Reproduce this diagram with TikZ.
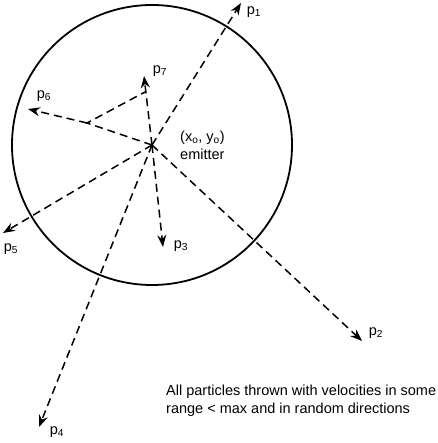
\documentclass[tikz,border=0pt]{standalone}
\usepackage{fontspec}
\setmainfont{Liberation Sans}
\usetikzlibrary{arrows.meta}

\begin{document}
\begin{tikzpicture}[x=1pt,y=-1pt,>={Stealth[length=12pt,width=9pt,inset=4pt]},
    font=\fontsize{14.5}{18}\selectfont,
    track/.style={line width=1.5pt,dash pattern=on 8pt off 5pt},
    particle/.style={track,->},
    plabel/.style={inner sep=0pt}]
    \useasboundingbox (0,0) rectangle (437,443);

    % the emitter and its range
    \coordinate (e) at (152,145);
    \draw[line width=1.8pt] (e) circle(140);
    \node[anchor=west,align=left,inner sep=0pt] (eml) at (180,145)
        {(x\textsubscript{o}, y\textsubscript{o})\\emitter};

    % end points and labels of the particles
    \foreach \n/\tx/\ty/\lx/\ly in {
        1/241/3/254/12,
        2/362/341/376/333,
        3/163/247/181/246,
        4/39/427/57/432,
        5/3/233/11/249,
        6/28/109/44/96,
        7/144/76/160/71} {
            \coordinate (t\n) at (\tx,\ty);
            \node[plabel] (l\n) at (\lx,\ly) {p\textsubscript{\n}};
    }

    % straight paths from the emitter
    \foreach \n in {1,2,3,4,5,7}
        \draw[particle] (e) -- (t\n);

    % the path with a turn
    \coordinate (k) at (87,123);
    \coordinate (j) at (145,92);
    \draw[track] (e) -- (k) -- (j);
    \draw[particle] (k) -- (t6);

    % note
    \node[anchor=north west,align=left,inner sep=0pt] (note) at (166,385)
        {All particles thrown with velocities in some\\range < max and in random directions};
\end{tikzpicture}
\end{document}
